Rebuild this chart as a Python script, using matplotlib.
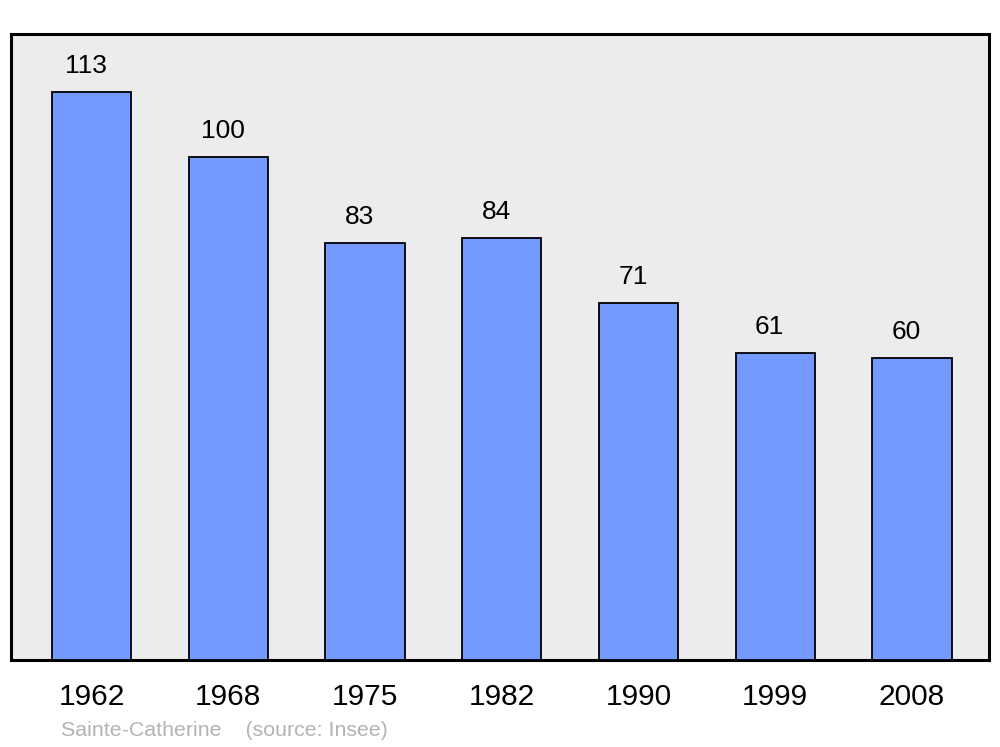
import matplotlib.pyplot as plt

plt.rcParams['font.family'] = ['Liberation Sans', 'DejaVu Sans']

# data
years = ['1962', '1968', '1975', '1982', '1990', '1999', '2008']
population = [113, 100, 83, 84, 71, 61, 60]
source_text = 'Sainte-Catherine    (source: Insee)'

fig = plt.figure(figsize=(10, 7.47), dpi=100)
ax = fig.add_axes([11 / 1000, 1 - 660 / 747, 978 / 1000, 626 / 747])
ax.set_facecolor('#ececec')

x = list(range(len(years)))
ax.bar(x, population, width=0.58, color='#7499ff', edgecolor='black',
       linewidth=1.3, zorder=3)

# valeurs au-dessus des barres
for xi, v in zip(x, population):
    ax.annotate(str(v), (xi, v), xytext=(-4, 10), textcoords='offset points',
                ha='center', va='bottom', fontsize=19)

ax.set_xlim(-0.589, 6.563)
ax.set_ylim(0, 124.5)
ax.set_xticks(x)
ax.set_xticklabels(years, fontsize=21.5)
ax.tick_params(axis='x', length=0, pad=16.5)
ax.set_yticks([])
for s in ax.spines.values():
    s.set_linewidth(2.2)

fig.text(61 / 1000, 1 - 730 / 747, source_text, fontsize=15.4, color='#b3b3b3',
         va='center', ha='left')

fig.savefig('out.png', dpi=100)
